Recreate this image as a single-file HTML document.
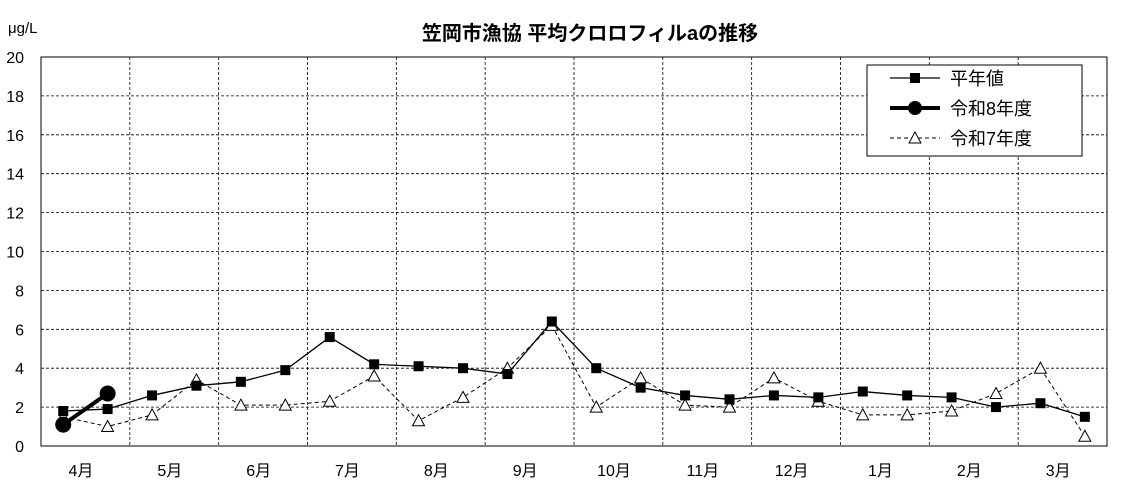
<!DOCTYPE html>
<html><head><meta charset="utf-8"><style>body{margin:0;background:#fff}svg{display:block}text{font-family:"Liberation Sans","Noto Sans CJK JP",sans-serif}</style></head><body>
<svg width="1129" height="496" viewBox="0 0 1129 496" xmlns="http://www.w3.org/2000/svg">
<rect width="1129" height="496" fill="#fff"/>
<text x="590" y="40" font-size="20" font-weight="bold" text-anchor="middle">笠岡市漁協  平均クロロフィルaの推移</text>
<text x="8" y="33" font-size="15">μg/L</text>
<g id="grid" stroke="#000" stroke-width="0.8" stroke-dasharray="3,2">
</g>
<rect x="41" y="57" width="1066" height="389" fill="none" stroke="#000" stroke-width="1"/>
<g id="yl" font-size="16" text-anchor="end"></g>
<g id="xl" font-size="16" text-anchor="middle"></g>
<g id="s"></g>
<rect x="867" y="65" width="215" height="91" fill="#fff" stroke="#000" stroke-width="1"/>
<line x1="890" y1="78" x2="940" y2="78" stroke="#000" stroke-width="1.3"/><rect x="910" y="73" width="10" height="10"/>
<text x="950" y="85" font-size="18">平年値</text>
<line x1="890" y1="108" x2="940" y2="108" stroke="#000" stroke-width="4"/><circle cx="915" cy="108" r="7"/>
<text x="950" y="115" font-size="18">令和8年度</text>
<line x1="890" y1="138" x2="940" y2="138" stroke="#000" stroke-width="1" stroke-dasharray="4,3"/><polygon points="915,132 921,143 909,143" fill="#fff" stroke="#000"/>
<text x="950" y="145" font-size="18">令和7年度</text>
</svg>
<script>
const ns="http://www.w3.org/2000/svg";
function el(p,t,a,txt){const e=document.createElementNS(ns,t);for(const k in a)e.setAttribute(k,a[k]);if(txt!==undefined)e.textContent=txt;document.getElementById(p).appendChild(e);return e;}
const X0=41,W=1066,Y0=446,S=19.45;
for(let i=1;i<10;i++)el('grid','line',{x1:X0,x2:X0+W,y1:Y0-i*2*S,y2:Y0-i*2*S});
for(let i=1;i<12;i++){const x=X0+i*W/12;el('grid','line',{x1:x,x2:x,y1:57,y2:446});}
for(let i=0;i<=10;i++)el('yl','text',{x:24,y:Y0-i*2*S+6},String(i*2));
const m=['4月','5月','6月','7月','8月','9月','10月','11月','12月','1月','2月','3月'];
m.forEach((t,i)=>el('xl','text',{x:X0+(i+0.45)*W/12,y:476},t));
const px=i=>X0+22.2+i*44.42, py=v=>Y0-v*S;
const n=[1.8,1.9,2.6,3.1,3.3,3.9,5.6,4.2,4.1,4.0,3.7,6.4,4.0,3.0,2.6,2.4,2.6,2.5,2.8,2.6,2.5,2.0,2.2,1.5];
const r7=[1.5,1.0,1.6,3.4,2.1,2.1,2.3,3.6,1.3,2.5,4.0,6.2,2.0,3.5,2.1,2.0,3.5,2.3,1.6,1.6,1.8,2.7,4.0,0.5];
const r8=[1.1,2.7];
el('s','polyline',{points:r7.map((v,i)=>px(i)+','+py(v)).join(' '),fill:'none',stroke:'#000','stroke-width':1,'stroke-dasharray':'4,3'});
r7.forEach((v,i)=>{const x=px(i),y=py(v);el('s','polygon',{points:`${x},${y-6} ${x+6},${y+5} ${x-6},${y+5}`,fill:'#fff',stroke:'#000'});});
el('s','polyline',{points:n.map((v,i)=>px(i)+','+py(v)).join(' '),fill:'none',stroke:'#000','stroke-width':1.3});
n.forEach((v,i)=>el('s','rect',{x:px(i)-5,y:py(v)-5,width:10,height:10}));
el('s','polyline',{points:r8.map((v,i)=>px(i)+','+py(v)).join(' '),fill:'none',stroke:'#000','stroke-width':4});
r8.forEach((v,i)=>el('s','circle',{cx:px(i),cy:py(v),r:8}));
</script>
</body></html>
